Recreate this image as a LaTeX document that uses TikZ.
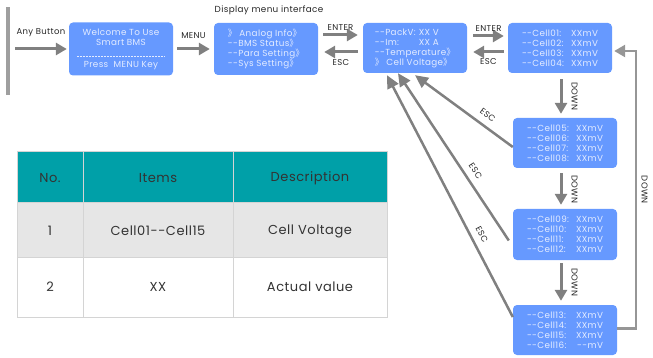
\documentclass[tikz,border=0pt]{standalone}
\usepackage{fontspec}
\setmainfont{Poppins}[Ligatures=TeXOff,LetterSpace=4]
\newfontfamily\cjk{Noto Sans CJK SC}
\usetikzlibrary{arrows.meta,positioning,calc}
\definecolor{boxblue}{RGB}{102,153,255}
\definecolor{boxtext}{RGB}{228,236,255}
\definecolor{arrowgray}{RGB}{128,128,128}
\definecolor{loopgray}{RGB}{150,150,150}
\definecolor{headteal}{RGB}{0,160,168}
\definecolor{rowgray}{RGB}{230,230,230}
\definecolor{gridgray}{RGB}{212,212,212}
\newcommand{\dang}{{\cjk 》}}
\newcommand{\cellrow}[2]{\makebox[48pt][l]{--Cell#1:}\makebox[28pt][r]{#2}}
\begin{document}
\begin{tikzpicture}[x=1pt,y=-1pt,>={Triangle[length=11pt,width=12pt]},
	screen/.style={fill=boxblue,rounded corners=4pt,minimum width=104pt,minimum height=51pt,
		inner sep=0pt,text=boxtext,align=left,font=\fontsize{8.8}{10}\selectfont},
	flow/.style={draw=arrowgray,line width=3pt,->},
	esc/.style={draw=arrowgray,line width=2.5pt,-{Triangle[length=13pt,width=12pt]}},
	keylbl/.style={font=\fontsize{8.5}{10}\selectfont,text=black!85},
	celltext/.style={font=\fontsize{13}{15}\selectfont,text=black!80}]
	\useasboundingbox (0,0) rectangle (653,358);
	\fill[gray!75] (6,7) rectangle (10,95);
	\coordinate (start) at (15,49);
	% screens
	\node[screen,align=center,minimum height=53pt] (welcome) at (121,49) {Welcome To Use\\Smart BMS\\[12pt]Press\ \ MENU Key};
	\draw[boxtext,dash pattern=on 2pt off 1pt,line width=0.4pt] ($(welcome.center)+(-44,7)$) -- ++(88,0);
	\node[screen,minimum height=52pt] (menu) at (266,49) {\dang\ Analog Info\dang\\--BMS Status\dang\\--Para Setting\dang\\--Sys Setting\dang};
	\node[screen,minimum height=50pt] (analog) at (415,48) {\makebox[44pt][l]{--PackV:}XX V\\\makebox[44pt][l]{--Im:}XX A\\--Temperature\dang\\\dang\ Cell Voltage\dang};
	\node[screen,minimum height=50pt] (cells4) at (560,48) {\cellrow{01}{XXmV}\\\cellrow{02}{XXmV}\\\cellrow{03}{XXmV}\\\cellrow{04}{XXmV}};
	\node[screen,minimum height=50pt] (cells5) at (565,143) {\cellrow{05}{XXmV}\\\cellrow{06}{XXmV}\\\cellrow{07}{XXmV}\\\cellrow{08}{XXmV}};
	\node[screen] (cells6) at (565,234.5) {\cellrow{09}{XXmV}\\\cellrow{10}{XXmV}\\\cellrow{11}{XXmV}\\\cellrow{12}{XXmV}};
	\node[screen,minimum height=50pt] (cells7) at (565,330) {\cellrow{13}{XXmV}\\\cellrow{14}{XXmV}\\\cellrow{15}{XXmV}\\\cellrow{16}{--mV}};
	\node[keylbl,font=\fontsize{8.8}{10}\selectfont] (title) at (269,10) {Display menu interface};
	% keys
	\draw[flow] (start) -- ([xshift=-2pt]welcome.west) node[keylbl,midway,above=7pt]{Any Button};
	\draw[flow] ([xshift=4pt]welcome.east) -- ([xshift=-4pt]menu.west) node[keylbl,midway,above=6pt]{MENU};
	\draw[flow] ($(menu.east)+(5,-14)$) -- ($(analog.west)+(-5,-13)$) node[keylbl,midway,above=0pt]{ENTER};
	\draw[flow] ($(analog.west)+(-5,4)$) -- ($(menu.east)+(6,3)$) node[keylbl,midway,below=3pt]{ESC};
	\draw[flow] ($(analog.east)+(6,-12)$) -- ($(cells4.west)+(-4,-12)$) node[keylbl,midway,above=0pt]{ENTER};
	\draw[flow] ($(cells4.west)+(-4,4)$) -- ($(analog.east)+(6,4)$) node[keylbl,midway,below=2pt]{ESC};
	\draw[flow] ($(cells4.south)+(1,6)$) -- ($(cells5.north)+(-4,-4)$) node[keylbl,midway,rotate=-90,anchor=south,inner sep=9pt]{DOWN};
	\draw[flow] ($(cells5.south)+(-4,5)$) -- ($(cells6.north)+(-4,-4)$) node[keylbl,midway,rotate=-90,anchor=south,inner sep=9pt]{DOWN};
	\draw[flow] ($(cells6.south)+(-4,3)$) -- ($(cells7.north)+(-4,-4)$) node[keylbl,midway,rotate=-90,anchor=south,inner sep=9pt]{DOWN};
	\draw[flow,draw=loopgray,line width=2.5pt] ([yshift=1.5pt]cells7.east) -- ++(19,0) |- node[keylbl,pos=0.25,rotate=-90,anchor=south,inner sep=4pt]{DOWN} ([xshift=2pt,yshift=-3pt]cells4.east);
	\draw[esc] ($(cells5.west)+(0,4)$) -- ($(analog.south)+(0,2)$) node[keylbl,pos=0.32,sloped,above=3pt]{ESC};
	\draw[esc] ($(cells6.west)+(-4,6)$) -- ($(analog.south)+(-17,0)$) node[keylbl,pos=0.38,sloped,above=3pt]{ESC};
	\draw[esc] ($(cells7.west)+(0,-13)$) -- ($(analog.south)+(-28,2)$) node[keylbl,pos=0.32,sloped,above=3pt]{ESC};
	% table
	\fill[headteal] (17,152) rectangle (387,203);
	\fill[rowgray] (17,203) rectangle (387,257);
	\draw[gridgray,line width=1pt] (17,152) rectangle (387,317) (17,203) -- (387,203) (17,257) -- (387,257)
		(83,152) -- (83,317) (233,152) -- (233,317);
	\foreach \y/\a/\b/\c [count=\r] in {178/No./Items/Description,231/1/Cell01--Cell15/Cell Voltage,287/2/XX/Actual value}{
		\node[celltext] (no\r) at (50,\y) {\a};
		\node[celltext] (item\r) at (158,\y) {\b};
		\node[celltext] (desc\r) at (310,\y) {\c};}
\end{tikzpicture}
\end{document}
